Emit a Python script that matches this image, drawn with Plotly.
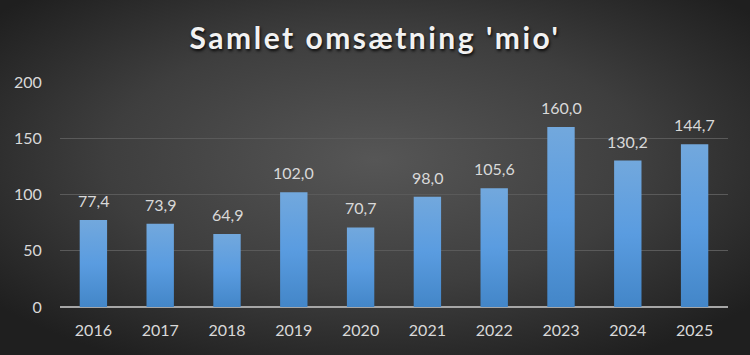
import base64
import plotly.graph_objects as go

years = ["2016", "2017", "2018", "2019", "2020", "2021", "2022", "2023", "2024", "2025"]
values = [77.4, 73.9, 64.9, 102.0, 70.7, 98.0, 105.6, 160.0, 130.2, 144.7]
value_labels = [f"{v:.1f}".replace(".", ",") for v in values]
title_text = "Samlet omsætning 'mio'"

W, H = 750, 355
L, R, T, B = 60, 22, 82, 48
pw, ph = W - L - R, H - T - B

bg_svg = f"""<svg xmlns='http://www.w3.org/2000/svg' width='{W}' height='{H}' viewBox='0 0 {W} {H}' preserveAspectRatio='none'>
<defs><radialGradient id='g' cx='50%' cy='45%' r='65%'>
<stop offset='0' stop-color='#565656'/><stop offset='0.55' stop-color='#3e3e3e'/><stop offset='1' stop-color='#1f1f1f'/>
</radialGradient></defs><rect x='0' y='0' width='{W}' height='{H}' fill='url(#g)'/></svg>"""
bg_uri = "data:image/svg+xml;base64," + base64.b64encode(bg_svg.encode()).decode()

fig = go.Figure(go.Bar(
    x=years, y=values,
    marker=dict(color="#5599d8", line=dict(width=0)),
    width=0.41, hoverinfo="x+y",
))

# category axis: annotation x is the category's serial index
annotations = [
    dict(x=i, y=v, text=lab, xref="x", yref="y", showarrow=False,
         yanchor="bottom", yshift=8,
         font=dict(family="Lato", size=16, color="#d9d9d9"))
    for i, (v, lab) in enumerate(zip(values, value_labels))
]

fig.update_layout(
    width=W, height=H,
    margin=dict(l=L, r=R, t=T, b=B, autoexpand=False),
    paper_bgcolor="#333333", plot_bgcolor="rgba(0,0,0,0)",
    showlegend=False,
    annotations=annotations,
    title=dict(text=title_text, x=0.5, xanchor="center", y=1 - 38 / H, yanchor="middle",
               font=dict(family="Lato", size=30, color="#f2f2f2", weight="bold",
                         shadow="1px 2px 3px rgba(0,0,0,0.85)")),
    images=[dict(source=bg_uri, xref="paper", yref="paper",
                 x=-L / pw, y=1 + T / ph, sizex=W / pw, sizey=H / ph,
                 xanchor="left", yanchor="top", sizing="stretch", layer="below")],
    xaxis=dict(type="category", tickfont=dict(family="Lato", size=16, color="#d9d9d9"),
               ticks="outside", ticklen=9, tickcolor="rgba(0,0,0,0)",
               showline=False, showgrid=False),
    yaxis=dict(range=[0, 200], tickvals=[0, 50, 100, 150, 200],
               tickfont=dict(family="Lato", size=16, color="#d9d9d9"),
               ticks="outside", ticklen=14, tickcolor="rgba(0,0,0,0)",
               gridcolor="#5a5a5a", gridwidth=1,
               zeroline=True, zerolinecolor="#a6a6a6", zerolinewidth=2),
    bargap=0.59,
)

post = """
document.body.style.margin = '0';
document.body.style.background = '#222';
var gd = document.getElementById('{plot_id}');
function applyStyle(){
  var ns='http://www.w3.org/2000/svg';
  var svg = gd.querySelector('svg.main-svg');
  if(!svg) return;
  if(!document.getElementById('barGrad')){
    var defs = svg.querySelector('defs') || svg.insertBefore(document.createElementNS(ns,'defs'), svg.firstChild);
    var lg = document.createElementNS(ns,'linearGradient');
    lg.setAttribute('id','barGrad'); lg.setAttribute('x1','0'); lg.setAttribute('y1','0');
    lg.setAttribute('x2','0'); lg.setAttribute('y2','1');
    [['0','#72a8dd'],['0.5','#5a9ce0'],['1','#4386c8']].forEach(function(s){
      var st=document.createElementNS(ns,'stop'); st.setAttribute('offset',s[0]); st.setAttribute('stop-color',s[1]); lg.appendChild(st);
    });
    defs.appendChild(lg);
  }
  gd.querySelectorAll('.bars .point path').forEach(function(p){ p.style.fill='url(#barGrad)'; });
  gd.querySelectorAll('.gtitle').forEach(function(t){ t.style.letterSpacing='2.5px'; });
}
applyStyle();
gd.on && gd.on('plotly_afterplot', applyStyle);
"""

fig.write_html("out.html", post_script=post, config={"displayModeBar": False})
